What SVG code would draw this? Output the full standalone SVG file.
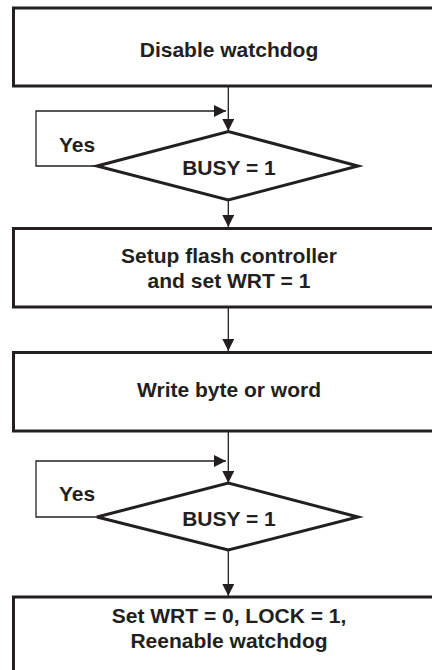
<svg xmlns="http://www.w3.org/2000/svg" width="432" height="670" viewBox="0 0 432 670">
<style>
.box{fill:#fff;stroke:#231f20;stroke-width:3}
.line{fill:none;stroke:#231f20;stroke-width:1.3}
.t{font-family:"Liberation Sans",Arial,sans-serif;font-weight:bold;font-size:21px;fill:#231f20;text-anchor:middle}
.lbl{font-family:"Liberation Sans",Arial,sans-serif;font-weight:bold;font-size:21px;fill:#231f20}
</style>
<defs>
<marker id="ah" markerUnits="userSpaceOnUse" markerWidth="12" markerHeight="12" viewBox="0 0 12 12" refX="12" refY="6" orient="auto">
<path d="M0,0 L12,6 L0,12 Z" fill="#231f20"/>
</marker>
</defs>
<rect width="432" height="670" fill="#fff"/>
<g id="connectors">
<line class="line" x1="228.3" y1="86" x2="228.3" y2="131" marker-end="url(#ah)"/>
<polyline class="line" points="97,166 36,166 36,111 226,111" marker-end="url(#ah)"/>
<line class="line" x1="228.3" y1="200" x2="228.3" y2="227" marker-end="url(#ah)"/>
<line class="line" x1="228.3" y1="307" x2="228.3" y2="351" marker-end="url(#ah)"/>
<line class="line" x1="228.3" y1="431" x2="228.3" y2="483" marker-end="url(#ah)"/>
<polyline class="line" points="97,517 36,517 36,461 226,461" marker-end="url(#ah)"/>
<line class="line" x1="228.3" y1="550" x2="228.3" y2="596" marker-end="url(#ah)"/>
</g>
<g id="n1">
<rect class="box" x="13.5" y="8" width="430" height="78"/>
<text class="t" x="229" y="56.5">Disable watchdog</text>
</g>
<g id="d1">
<polygon class="box" points="97,166 228.3,131.5 358,166 228.3,200"/>
<text class="t" x="229" y="175">BUSY = 1</text>
<text class="lbl" x="59" y="152">Yes</text>
</g>
<g id="n2">
<rect class="box" x="13.5" y="228.5" width="430" height="78.5"/>
<text class="t" x="229" y="263">Setup flash controller</text>
<text class="t" x="229" y="288">and set WRT = 1</text>
</g>
<g id="n3">
<rect class="box" x="13.5" y="352.5" width="430" height="78.5"/>
<text class="t" x="229" y="397">Write byte or word</text>
</g>
<g id="d2">
<polygon class="box" points="97,517 228.3,483 358,517 228.3,550"/>
<text class="t" x="229" y="526">BUSY = 1</text>
<text class="lbl" x="59" y="501">Yes</text>
</g>
<g id="n4">
<rect class="box" x="13.5" y="597" width="430" height="90"/>
<text class="t" x="229" y="623">Set WRT = 0, LOCK = 1,</text>
<text class="t" x="229" y="648">Reenable watchdog</text>
</g>
</svg>
